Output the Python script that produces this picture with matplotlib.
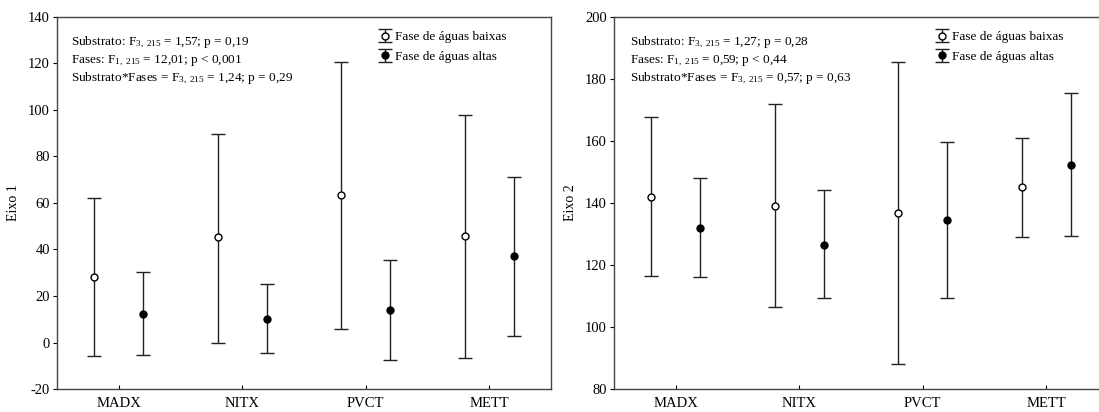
import matplotlib.pyplot as plt

plt.rcParams['font.family'] = ['Liberation Serif', 'DejaVu Serif']
plt.rcParams['mathtext.fontset'] = 'custom'
plt.rcParams['mathtext.rm'] = 'Liberation Serif'
plt.rcParams['mathtext.it'] = 'Liberation Serif:italic'
plt.rcParams['axes.unicode_minus'] = False

substratos = ['MADX', 'NITX', 'PVCT', 'METT']

# Eixo 1: media, limite superior, limite inferior
e1_baixas_media = [28.3, 45.2, 63.3, 46.0]
e1_baixas_sup = [62.2, 89.8, 120.6, 97.9]
e1_baixas_inf = [-5.9, 0.0, 6.0, -6.5]
e1_altas_media = [12.4, 10.2, 14.0, 37.0]
e1_altas_sup = [30.2, 25.0, 35.6, 71.2]
e1_altas_inf = [-5.3, -4.5, -7.5, 2.6]

# Eixo 2
e2_baixas_media = [142.0, 139.0, 136.7, 145.0]
e2_baixas_sup = [167.6, 172.0, 185.6, 161.0]
e2_baixas_inf = [116.6, 106.5, 88.0, 129.0]
e2_altas_media = [132.0, 126.6, 134.5, 152.2]
e2_altas_sup = [148.2, 144.2, 159.7, 175.5]
e2_altas_inf = [116.1, 109.5, 109.3, 129.2]

textos1 = ['Substrato: F$_{3,\\ 215}$ = 1,57; p = 0,19',
           'Fases: F$_{1,\\ 215}$ = 12,01; p < 0,001',
           'Substrato*Fases = F$_{3,\\ 215}$ = 1,24; p = 0,29']
textos2 = ['Substrato: F$_{3,\\ 215}$ = 1,27; p = 0,28',
           'Fases: F$_{1,\\ 215}$ = 0,59; p < 0,44',
           'Substrato*Fases = F$_{3,\\ 215}$ = 0,57; p = 0,63']

fig = plt.figure(figsize=(10.99, 4.12), dpi=100)
ax1 = fig.add_axes([0.0519, 0.0558, 0.4495, 0.903])
ax2 = fig.add_axes([0.5587, 0.0558, 0.4495, 0.903])

cor = '#222222'


def painel(ax, bm, bs, bi, am, asup, ai, ylim, yticks, ylabel, textos, tx):
    x = list(range(1, len(substratos) + 1))
    xb = [v - 0.2 for v in x]
    xa = [v + 0.2 for v in x]
    erro_b = [[m - i for m, i in zip(bm, bi)], [s - m for m, s in zip(bm, bs)]]
    erro_a = [[m - i for m, i in zip(am, ai)], [s - m for m, s in zip(am, asup)]]
    ax.errorbar(xb, bm, yerr=erro_b, fmt='o', color=cor, ecolor=cor, elinewidth=1,
                capsize=5, capthick=1, markersize=5, markerfacecolor='white',
                markeredgecolor='black', markeredgewidth=1, label='Fase de águas baixas')
    ax.errorbar(xa, am, yerr=erro_a, fmt='o', color=cor, ecolor=cor, elinewidth=1,
                capsize=5, capthick=1, markersize=5, markerfacecolor='black',
                markeredgecolor='black', label='Fase de águas altas')
    ax.set_xlim(0.5, 4.5)
    ax.set_ylim(*ylim)
    ax.set_yticks(yticks)
    ax.set_xticks(x)
    ax.set_xticklabels(substratos)
    ax.set_ylabel(ylabel, fontsize=10, labelpad=6)
    ax.tick_params(axis='x', direction='in', length=3, labelsize=10.5, pad=6)
    ax.tick_params(axis='y', direction='out', length=3, labelsize=10.5, pad=2)
    for s in ax.spines.values():
        s.set_color('#444444')
        s.set_linewidth(1)
    for k, t in enumerate(textos):
        ax.text(tx, 0.932 - k * 0.049, t, transform=ax.transAxes, fontsize=9.5,
                va='center', ha='left')
    ax.legend(loc='upper left', bbox_to_anchor=(0.655, 0.962), frameon=False,
              fontsize=9.5, handlelength=0.6, handletextpad=0.5, borderpad=0,
              borderaxespad=0, labelspacing=0.55)


painel(ax1, e1_baixas_media, e1_baixas_sup, e1_baixas_inf,
       e1_altas_media, e1_altas_sup, e1_altas_inf,
       (-20, 140), range(-20, 141, 20), 'Eixo 1', textos1, 0.028)
painel(ax2, e2_baixas_media, e2_baixas_sup, e2_baixas_inf,
       e2_altas_media, e2_altas_sup, e2_altas_inf,
       (80, 200), range(80, 201, 20), 'Eixo 2', textos2, 0.032)

fig.savefig('out.png', dpi=100)
